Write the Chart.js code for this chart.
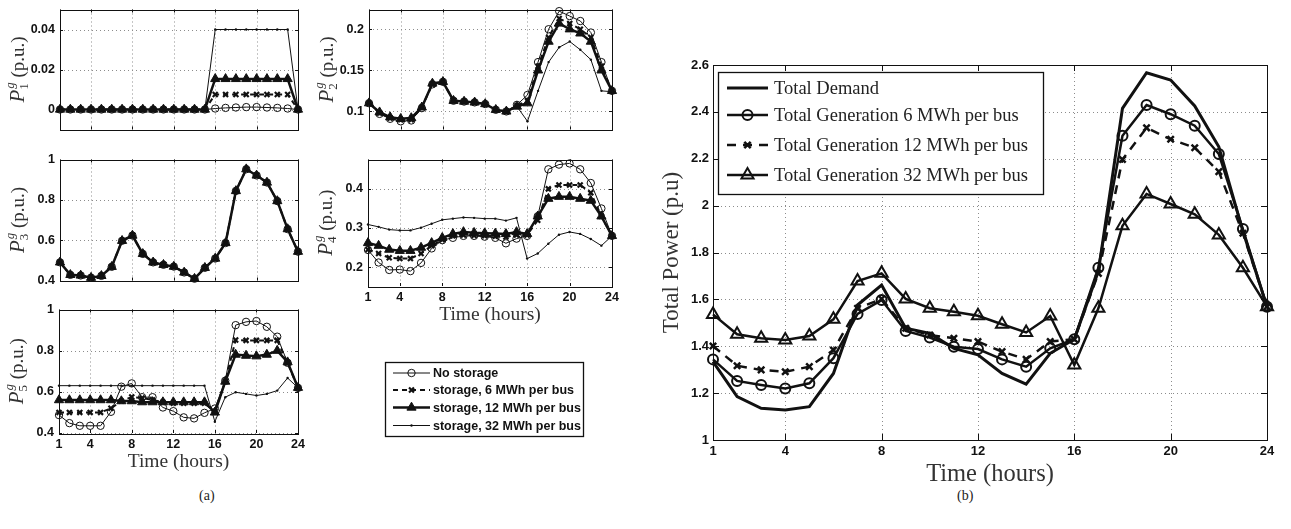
<!DOCTYPE html>
<html>
<head>
<meta charset="utf-8">
<script src="https://cdn.jsdelivr.net/npm/chart.js@4.4.1/dist/chart.umd.min.js"></script>
<style>
html, body { margin: 0; padding: 0; background: #fff; }
#fig { position: relative; width: 1291px; height: 529px; overflow: hidden; background: #fff; }
#fig canvas { position: absolute; }
.cap { position: absolute; font-family: "Liberation Serif", serif; font-size: 14px; color: #222; }
</style>
</head>
<body>
<div id="fig">
  <div class="cap" style="left:199px;top:488px">(a)</div>
  <div class="cap" style="left:957px;top:488px">(b)</div>
</div>
<script>
const hours = [1, 2, 3, 4, 5, 6, 7, 8, 9, 10, 11, 12, 13, 14, 15, 16, 17, 18, 19, 20, 21, 22, 23, 24];
const hourTicks = [1, 4, 8, 12, 16, 20, 24];

// generator 1
const p1None = [0, 0, 0, 0, 0, 0, 0, 0, 0, 0, 0, 0, 0, 0, 0, 0.0005, 0.0008, 0.001, 0.0012, 0.0012, 0.001, 0.0008, 0.0005, 0];
const p1S6 = [0, 0, 0, 0, 0, 0, 0, 0, 0, 0, 0, 0, 0, 0, 0, 0.0075, 0.0075, 0.0075, 0.0075, 0.0075, 0.0075, 0.0075, 0.0075, 0];
const p1S12 = [0, 0, 0, 0, 0, 0, 0, 0, 0, 0, 0, 0, 0, 0, 0, 0.0153, 0.0153, 0.0153, 0.0153, 0.0153, 0.0153, 0.0153, 0.0153, 0];
const p1S32 = [0, 0, 0, 0, 0, 0, 0, 0, 0, 0, 0, 0, 0, 0, 0, 0.04, 0.04, 0.04, 0.04, 0.04, 0.04, 0.04, 0.04, 0];

// generator 2
const p2None = [0.11, 0.097, 0.091, 0.088, 0.089, 0.104, 0.133, 0.136, 0.113, 0.112, 0.111, 0.109, 0.102, 0.1, 0.108, 0.12, 0.16, 0.2, 0.222, 0.216, 0.21, 0.196, 0.16, 0.125];
const p2S6 = [0.11, 0.098, 0.092, 0.09, 0.09, 0.105, 0.133, 0.136, 0.113, 0.112, 0.111, 0.109, 0.102, 0.1, 0.107, 0.113, 0.155, 0.19, 0.213, 0.207, 0.2, 0.19, 0.155, 0.125];
const p2S12 = [0.11, 0.099, 0.093, 0.091, 0.092, 0.105, 0.134, 0.136, 0.113, 0.112, 0.111, 0.109, 0.102, 0.1, 0.106, 0.11, 0.15, 0.185, 0.207, 0.2, 0.195, 0.185, 0.15, 0.125];
const p2S32 = [0.11, 0.099, 0.093, 0.091, 0.092, 0.106, 0.134, 0.136, 0.113, 0.112, 0.111, 0.109, 0.102, 0.1, 0.106, 0.088, 0.125, 0.16, 0.178, 0.185, 0.175, 0.163, 0.125, 0.124];

// generator 3 (all cases overlap)
const p3All = [0.49, 0.428, 0.425, 0.414, 0.423, 0.468, 0.597, 0.623, 0.532, 0.49, 0.478, 0.469, 0.44, 0.409, 0.463, 0.509, 0.586, 0.844, 0.952, 0.921, 0.886, 0.794, 0.655, 0.543];

// generator 4
const p4None = [0.244, 0.212, 0.193, 0.194, 0.19, 0.211, 0.248, 0.269, 0.275, 0.28, 0.28, 0.278, 0.275, 0.261, 0.273, 0.28, 0.33, 0.45, 0.462, 0.465, 0.45, 0.415, 0.35, 0.28];
const p4S6 = [0.245, 0.235, 0.224, 0.222, 0.222, 0.235, 0.255, 0.27, 0.28, 0.282, 0.281, 0.28, 0.279, 0.277, 0.282, 0.282, 0.32, 0.4, 0.41, 0.41, 0.41, 0.39, 0.33, 0.28];
const p4S12 = [0.262, 0.255, 0.245, 0.242, 0.242, 0.25, 0.262, 0.275, 0.285, 0.29, 0.288, 0.287, 0.286, 0.285, 0.29, 0.285, 0.33, 0.375, 0.38, 0.38, 0.375, 0.37, 0.33, 0.28];
const p4S32 = [0.309, 0.303, 0.296, 0.294, 0.294, 0.301, 0.311, 0.321, 0.324, 0.327, 0.326, 0.324, 0.324, 0.319, 0.326, 0.222, 0.235, 0.26, 0.283, 0.29, 0.285, 0.272, 0.255, 0.28];

// generator 5
const p5None = [0.487, 0.448, 0.435, 0.435, 0.435, 0.503, 0.625, 0.641, 0.574, 0.574, 0.524, 0.506, 0.476, 0.471, 0.498, 0.519, 0.654, 0.924, 0.94, 0.944, 0.916, 0.868, 0.741, 0.619];
const p5S6 = [0.5, 0.5, 0.5, 0.5, 0.5, 0.52, 0.555, 0.575, 0.57, 0.56, 0.55, 0.545, 0.545, 0.545, 0.545, 0.505, 0.65, 0.852, 0.85, 0.85, 0.85, 0.85, 0.74, 0.62];
const p5S12 = [0.56, 0.56, 0.56, 0.56, 0.56, 0.56, 0.555, 0.555, 0.55, 0.55, 0.55, 0.55, 0.55, 0.55, 0.55, 0.5, 0.65, 0.781, 0.776, 0.773, 0.781, 0.8, 0.744, 0.62];
const p5S32 = [0.63, 0.63, 0.63, 0.63, 0.63, 0.63, 0.63, 0.63, 0.63, 0.63, 0.63, 0.63, 0.63, 0.63, 0.63, 0.455, 0.574, 0.598, 0.59, 0.582, 0.59, 0.606, 0.667, 0.62];

// total power (b)
const totDemand = [1.334, 1.185, 1.135, 1.128, 1.142, 1.284, 1.576, 1.661, 1.477, 1.455, 1.391, 1.363, 1.284, 1.238, 1.37, 1.43, 1.72, 2.415, 2.567, 2.536, 2.425, 2.251, 1.89, 1.569];
const totGen6 = [1.344, 1.252, 1.235, 1.22, 1.242, 1.349, 1.538, 1.597, 1.465, 1.437, 1.398, 1.388, 1.344, 1.313, 1.391, 1.43, 1.735, 2.298, 2.429, 2.39, 2.341, 2.22, 1.9, 1.569];
const totGen12 = [1.401, 1.317, 1.299, 1.291, 1.313, 1.384, 1.562, 1.602, 1.477, 1.448, 1.434, 1.42, 1.377, 1.344, 1.42, 1.43, 1.711, 2.197, 2.332, 2.283, 2.247, 2.145, 1.882, 1.569];
const totGen32 = [1.536, 1.451, 1.434, 1.427, 1.444, 1.515, 1.678, 1.711, 1.602, 1.562, 1.547, 1.53, 1.494, 1.459, 1.529, 1.32, 1.562, 1.914, 2.05, 2.007, 1.963, 1.875, 1.735, 1.569];

const p1Ticks = [0, 0.02, 0.04];
const p2Ticks = [0.1, 0.15, 0.2];
const p3Ticks = [0.4, 0.6, 0.8, 1];
const p4Ticks = [0.2, 0.3, 0.4];
const p5Ticks = [0.4, 0.6, 0.8, 1];
const totTicks = [1, 1.2, 1.4, 1.6, 1.8, 2, 2.2, 2.4, 2.6];

const legendA = ['No storage', 'storage, 6 MWh per bus', 'storage, 12 MWh per bus', 'storage, 32 MWh per bus'];
const legendB = ['Total Demand', 'Total Generation 6 MWh per bus', 'Total Generation 12 MWh per bus', 'Total Generation 32 MWh per bus'];

const INK = '#111';
const NONE = 'rgba(0,0,0,0)';

const styleA = [
  {borderWidth: 1, pointStyle: 'circle', pointRadius: 3.7, pointBorderWidth: 1, pointBackgroundColor: NONE},
  {borderWidth: 2, borderDash: [5, 4], pointStyle: 'crossRot', pointRadius: 3.5, pointBorderWidth: 2.2, pointBackgroundColor: NONE},
  {borderWidth: 2.5, pointStyle: 'triangle', pointRadius: 5.3, pointBorderWidth: 1, pointBackgroundColor: INK},
  {borderWidth: 1, pointStyle: 'circle', pointRadius: 1.2, pointBorderWidth: 0, pointBackgroundColor: INK}
];
const styleB = [
  {borderWidth: 3, pointRadius: 0, pointStyle: 'circle', pointBorderWidth: 0, pointBackgroundColor: NONE},
  {borderWidth: 2.5, pointStyle: 'circle', pointRadius: 5, pointBorderWidth: 2, pointBackgroundColor: NONE},
  {borderWidth: 2.5, borderDash: [9, 7], pointStyle: 'crossRot', pointRadius: 4.5, pointBorderWidth: 2.5, pointBackgroundColor: NONE},
  {borderWidth: 2.5, pointStyle: 'triangle', pointRadius: 7, pointBorderWidth: 2, pointBackgroundColor: NONE}
];

function toXY(arr) {
  return hours.map((h, i) => ({x: h, y: arr[i]}));
}

function makeSets(arrays, styles) {
  return arrays.map((arr, i) => Object.assign({
    data: toXY(arr), borderColor: INK, pointBorderColor: INK,
    tension: 0, fill: false, clip: false
  }, styles[i]));
}

function addCanvas(left, top, w, h) {
  const c = document.createElement('canvas');
  c.width = w; c.height = h;
  c.style.left = left + 'px'; c.style.top = top + 'px';
  c.style.width = w + 'px'; c.style.height = h + 'px';
  document.getElementById('fig').appendChild(c);
  return c;
}

function mark(ctx, style, x, y, r, stroke) {
  ctx.beginPath();
  if (style === 'triangle') {
    ctx.moveTo(x, y - r);
    ctx.lineTo(x + r * 0.866, y + r * 0.5);
    ctx.lineTo(x - r * 0.866, y + r * 0.5);
    ctx.closePath();
  } else if (style === 'crossRot') {
    const d = r * 0.7071;
    ctx.moveTo(x - d, y - d); ctx.lineTo(x + d, y + d);
    ctx.moveTo(x + d, y - d); ctx.lineTo(x - d, y + d);
  } else {
    ctx.arc(x, y, r, 0, Math.PI * 2);
  }
  if (style !== 'crossRot') ctx.fill();
  if (stroke) ctx.stroke();
}

// dotted grid under the data, box and inward ticks on top
function gridFrame(tickLen) {
  return {
    id: 'gridFrame',
    beforeDatasetsDraw(chart) {
      const {ctx, chartArea: a, scales: {x, y}} = chart;
      ctx.save();
      ctx.strokeStyle = '#8c8c8c';
      ctx.lineWidth = 1;
      ctx.setLineDash([1, 3]);
      ctx.beginPath();
      x.ticks.forEach(t => {
        const px = Math.round(x.getPixelForValue(t.value)) + 0.5;
        ctx.moveTo(px, a.top); ctx.lineTo(px, a.bottom);
      });
      y.ticks.forEach(t => {
        const py = Math.round(y.getPixelForValue(t.value)) + 0.5;
        ctx.moveTo(a.left, py); ctx.lineTo(a.right, py);
      });
      ctx.stroke();
      ctx.restore();
    },
    afterDatasetsDraw(chart) {
      const {ctx, chartArea: a, scales: {x, y}} = chart;
      ctx.save();
      ctx.strokeStyle = INK;
      ctx.lineWidth = 1;
      ctx.beginPath();
      x.ticks.forEach(t => {
        const px = Math.round(x.getPixelForValue(t.value)) + 0.5;
        ctx.moveTo(px, a.bottom); ctx.lineTo(px, a.bottom - tickLen);
        ctx.moveTo(px, a.top); ctx.lineTo(px, a.top + tickLen);
      });
      y.ticks.forEach(t => {
        const py = Math.round(y.getPixelForValue(t.value)) + 0.5;
        ctx.moveTo(a.left, py); ctx.lineTo(a.left + tickLen, py);
        ctx.moveTo(a.right, py); ctx.lineTo(a.right - tickLen, py);
      });
      ctx.stroke();
      ctx.strokeRect(Math.round(a.left) + 0.5, Math.round(a.top) + 0.5,
        Math.round(a.right - a.left), Math.round(a.bottom - a.top));
      ctx.restore();
    }
  };
}

// y label P^g_i (p.u.)
function pLabel(sub) {
  return {
    id: 'pLabel',
    afterDraw(chart) {
      const {ctx, chartArea: a} = chart;
      const cx = a.left - 41, cy = (a.top + a.bottom) / 2;
      const fP = 'italic 21px "Liberation Serif"';
      const fG = 'italic 13px "Liberation Serif"';
      const fS = '13px "Liberation Serif"';
      const fR = '19px "Liberation Serif"';
      const rest = ' (p.u.)';
      ctx.save();
      ctx.translate(cx, cy);
      ctx.rotate(-Math.PI / 2);
      ctx.fillStyle = '#333';
      ctx.textBaseline = 'alphabetic';
      ctx.textAlign = 'left';
      ctx.font = fP; const wP = ctx.measureText('P').width;
      ctx.font = fG; const wG = ctx.measureText('g').width;
      ctx.font = fS; const w1 = ctx.measureText(sub).width;
      ctx.font = fR; const wR = ctx.measureText(rest).width;
      const wS = Math.max(wG, w1) + 1;
      const x0 = -(wP + wS + wR) / 2;
      const base = 5;
      ctx.font = fP; ctx.fillText('P', x0, base);
      ctx.font = fG; ctx.fillText('g', x0 + wP + 1, base - 10);
      ctx.font = fS; ctx.fillText(sub, x0 + wP, base + 4);
      ctx.font = fR; ctx.fillText(rest, x0 + wP + wS, base);
      ctx.restore();
    }
  };
}

function boxLegend(cfg) {
  return {
    id: 'boxLegend',
    afterDraw(chart) {
      const ctx = chart.ctx;
      const sets = chart.data.datasets;
      ctx.save();
      ctx.fillStyle = '#fff';
      ctx.fillRect(cfg.x0, cfg.y0, cfg.x1 - cfg.x0, cfg.y1 - cfg.y0);
      ctx.strokeStyle = INK;
      ctx.lineWidth = 1.3;
      ctx.strokeRect(cfg.x0 + 0.5, cfg.y0 + 0.5, cfg.x1 - cfg.x0, cfg.y1 - cfg.y0);
      sets.forEach((ds, i) => {
        const y = cfg.rows[i];
        ctx.strokeStyle = INK;
        ctx.setLineDash(ds.borderDash || []);
        ctx.lineWidth = ds.borderWidth;
        ctx.beginPath();
        ctx.moveTo(cfg.lx0, y); ctx.lineTo(cfg.lx1, y);
        ctx.stroke();
        ctx.setLineDash([]);
        if (ds.pointRadius > 0) {
          ctx.fillStyle = ds.pointBackgroundColor;
          ctx.lineWidth = ds.pointBorderWidth;
          mark(ctx, ds.pointStyle, (cfg.lx0 + cfg.lx1) / 2, y, ds.pointRadius, ds.pointBorderWidth > 0);
        }
        ctx.fillStyle = cfg.color;
        ctx.font = cfg.font;
        ctx.textBaseline = 'middle';
        ctx.textAlign = 'left';
        ctx.fillText(cfg.labels[i], cfg.tx, y + cfg.dy);
      });
      ctx.restore();
    }
  };
}

function axisX(showX, xh, fontSize, tickSize) {
  return {
    type: 'linear', min: 1, max: 24,
    afterBuildTicks: s => { s.ticks = hourTicks.map(v => ({value: v})); },
    afterFit: s => { s.height = xh; },
    grid: {display: false, drawTicks: false},
    border: {display: false},
    ticks: {
      display: showX, autoSkip: false, maxRotation: 0, padding: 4, color: INK,
      font: {family: 'Liberation Sans', size: tickSize, weight: 'bold'},
      callback: v => String(v)
    },
    title: {
      display: showX, text: 'Time (hours)', color: '#333',
      padding: {top: 0, bottom: 1},
      font: {family: 'Liberation Serif', size: fontSize}
    }
  };
}

function axisY(yMin, yMax, yTicks, yw, tickSize, pad) {
  return {
    type: 'linear', min: yMin, max: yMax,
    afterBuildTicks: s => { s.ticks = yTicks.map(v => ({value: v})); },
    afterFit: s => { s.width = yw; },
    grid: {display: false, drawTicks: false},
    border: {display: false},
    ticks: {
      autoSkip: false, padding: pad, color: INK,
      font: {family: 'Liberation Sans', size: tickSize, weight: 'bold'},
      callback: v => String(v)
    }
  };
}

function smallChart(area, arrays, yMin, yMax, yTicks, sub, showX, extraBottom, extra) {
  const padL = 60, padT = 10, padR = 12;
  const xh = showX ? 42 : 6;
  const eb = extraBottom || 0;
  const w = area.r - area.l + padL + padR;
  const h = area.b - area.t + padT + xh + eb;
  const canvas = addCanvas(area.l - padL, area.t - padT, w, h);
  return new Chart(canvas, {
    type: 'line',
    data: {datasets: makeSets(arrays, styleA)},
    options: {
      responsive: false, animation: false, events: [],
      layout: {padding: {left: 0, top: padT, right: padR, bottom: eb}},
      plugins: {legend: {display: false}, tooltip: {enabled: false}},
      scales: {x: axisX(showX, xh, 19.5, 12.5), y: axisY(yMin, yMax, yTicks, padL, 12.5, 5)}
    },
    plugins: [gridFrame(3), pLabel(sub)].concat(extra || [])
  });
}

smallChart({l: 60, t: 7, r: 298, b: 136}, [p1None, p1S6, p1S12, p1S32], -0.01, 0.05, p1Ticks, '1', false);
smallChart({l: 369, t: 7, r: 612, b: 136}, [p2None, p2S6, p2S12, p2S32], 0.078, 0.224, p2Ticks, '2', false);
smallChart({l: 60, t: 157, r: 298, b: 287}, [p3All, p3All, p3All, p3All], 0.4, 1, p3Ticks, '3', false);
smallChart({l: 368, t: 157, r: 612, b: 286}, [p4None, p4S6, p4S12, p4S32], 0.152, 0.475, p4Ticks, '4', true, 112, [
  // legend box for panel (a), canvas origin at page (308, 147)
  boxLegend({x0: 77, y0: 215, x1: 275, y1: 289, rows: [226, 243, 260.5, 278.5], lx0: 85, lx1: 122, tx: 125, dy: 1,
    labels: legendA, color: INK, font: 'bold 12.5px "Liberation Sans"'})
]);
smallChart({l: 59, t: 307, r: 298, b: 433}, [p5None, p5S6, p5S12, p5S32], 0.4, 1, p5Ticks, '5', true);

// panel (b)
(function () {
  const left = 640, top = 50, w = 640, h = 440;
  const canvas = addCanvas(left, top, w, h);
  const yAx = axisY(1, 2.6, totTicks, 73, 13, 4);
  yAx.title = {
    display: true, text: 'Total Power (p.u)', color: '#333',
    padding: {top: 18, bottom: 0},
    font: {family: 'Liberation Serif', size: 23}
  };
  new Chart(canvas, {
    type: 'line',
    data: {datasets: makeSets([totDemand, totGen6, totGen12, totGen32], styleB)},
    options: {
      responsive: false, animation: false, events: [],
      layout: {padding: {left: 0, top: 15, right: 13, bottom: 0}},
      plugins: {legend: {display: false}, tooltip: {enabled: false}},
      scales: {x: axisX(true, 50, 24.5, 13), y: yAx}
    },
    plugins: [gridFrame(6), boxLegend({x0: 78, y0: 22, x1: 403, y1: 144, rows: [38, 65, 95, 125],
      lx0: 87, lx1: 128, tx: 134, dy: 1, labels: legendB, color: '#222', font: '18.5px "Liberation Serif"'})]
  });
})();
</script>
</body>
</html>
